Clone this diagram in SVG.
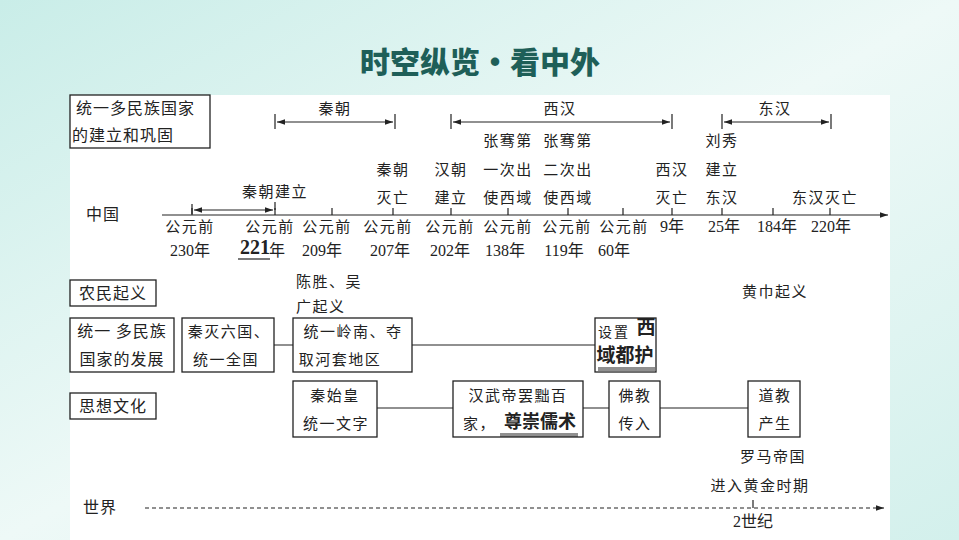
<svg xmlns="http://www.w3.org/2000/svg" width="959" height="540" viewBox="0 0 959 540">
<defs>
<linearGradient id="bg" x1="0" y1="0" x2="1" y2="1"><stop offset="0" stop-color="#c9ede8"/><stop offset="0.5" stop-color="#eef9f7"/><stop offset="1" stop-color="#d3f0ec"/></linearGradient>
<marker id="ar" viewBox="0 0 10 10" refX="10" refY="5" markerWidth="7" markerHeight="7" orient="auto-start-reverse"><path d="M0,1.5 L10,5 L0,8.5 Z" fill="#222"/></marker>
</defs>
<style>
text{font-family:"Noto Sans CJK SC","Noto Sans",sans-serif;font-size:15px;fill:#222;letter-spacing:1.5px}
.c{text-anchor:middle}
.n{font-family:"Liberation Serif","Noto Sans CJK SC",serif;font-size:16px;letter-spacing:0}
.b{fill:#fff;stroke:#222;stroke-width:1.3}
.l{stroke:#222;stroke-width:1.2;fill:none}
.bd{font-weight:bold;font-size:16px;letter-spacing:0}
.h{font-size:16px;letter-spacing:1px}
</style>
<rect width="959" height="540" fill="url(#bg)"/>
<rect x="70" y="95" width="820" height="445" fill="#fff"/>
<text x="480" y="73" class="c" style="font-size:30px;font-weight:900;fill:#1e5f58;letter-spacing:0">时空纵览·看中外</text>

<g id="connectors">
<line class="l" x1="162" y1="215" x2="888" y2="215" marker-end="url(#ar)"/>
<path class="l" d="M192,215v-7M275,215v-7M332,215v-7M393,215v-7M451,215v-7M508,215v-7M568,215v-7M623,215v-7M672,215v-7M722,215v-7M773,215v-7M830,215v-7"/>
<line class="l" x1="194" y1="210" x2="273" y2="210" marker-start="url(#ar)" marker-end="url(#ar)"/>
<path class="l" d="M192,204v10M275,202v8"/>
<line class="l" x1="277" y1="122" x2="393" y2="122" marker-start="url(#ar)" marker-end="url(#ar)"/>
<path class="l" d="M275,114v15M395,114v15"/>
<line class="l" x1="453" y1="122" x2="670" y2="122" marker-start="url(#ar)" marker-end="url(#ar)"/>
<path class="l" d="M451,114v15M672,114v15"/>
<line class="l" x1="724" y1="122" x2="829" y2="122" marker-start="url(#ar)" marker-end="url(#ar)"/>
<path class="l" d="M722,114v15M831,114v15"/>
<path class="l" d="M274,345H293M412,345H595M377,408H453M583,408H609M660,408H748"/>
<line class="l" x1="145" y1="508" x2="884" y2="508" stroke-dasharray="4,3" marker-end="url(#ar)"/>
<line class="l" x1="753" y1="500" x2="753" y2="508"/>
</g>

<g id="header"><rect class="b" x="70" y="95" width="140" height="53"/><text x="76" y="114" class="h">统一多民族国家</text><text x="72" y="141" class="h">的建立和巩固</text></g>
<g id="periods"><text x="335" y="114" class="c">秦朝</text><text x="560" y="114" class="c">西汉</text><text x="775" y="114" class="c">东汉</text></g>
<text x="103" y="220" class="c h">中国</text>
<g id="events">
<text x="275" y="197" class="c">秦朝建立</text>
<text x="393" y="175" class="c">秦朝</text><text x="393" y="203" class="c">灭亡</text>
<text x="451" y="175" class="c">汉朝</text><text x="451" y="203" class="c">建立</text>
<text x="508" y="146" class="c">张骞第</text><text x="508" y="175" class="c">一次出</text><text x="508" y="203" class="c">使西域</text>
<text x="568" y="146" class="c">张骞第</text><text x="568" y="175" class="c">二次出</text><text x="568" y="203" class="c">使西域</text>
<text x="672" y="175" class="c">西汉</text><text x="672" y="203" class="c">灭亡</text>
<text x="722" y="146" class="c">刘秀</text><text x="722" y="175" class="c">建立</text><text x="722" y="203" class="c">东汉</text>
<text x="825" y="203" class="c">东汉灭亡</text>
</g>
<g id="dates">
<text x="190" y="232" class="c">公元前</text><text x="190" y="256" class="n c">230年</text>
<text x="270" y="232" class="c">公元前</text><text x="255" y="254" class="n c" style="font-weight:bold;font-size:20px">221</text><text x="277" y="256" class="n c">年</text><line class="l" x1="238" y1="259" x2="270" y2="259"/>
<text x="327" y="232" class="c">公元前</text><text x="322" y="256" class="n c">209年</text>
<text x="388" y="232" class="c">公元前</text><text x="390" y="256" class="n c">207年</text>
<text x="450" y="232" class="c">公元前</text><text x="450" y="256" class="n c">202年</text>
<text x="508" y="232" class="c">公元前</text><text x="505" y="256" class="n c">138年</text>
<text x="567" y="232" class="c">公元前</text><text x="564" y="256" class="n c">119年</text>
<text x="624" y="232" class="c">公元前</text><text x="614" y="256" class="n c">60年</text>
<text x="672" y="232" class="n c">9年</text>
<text x="724" y="232" class="n c">25年</text>
<text x="777" y="232" class="n c">184年</text>
<text x="831" y="232" class="n c">220年</text>
</g>
<g id="nongmin"><rect class="b" x="70" y="280" width="86" height="26"/><text x="113" y="299" class="c h">农民起义</text></g>
<text x="296" y="287">陈胜、吴</text><text x="296" y="312">广起义</text>
<text x="775" y="297" class="c">黄巾起义</text>
<g id="fazhan"><rect class="b" x="70" y="318" width="104" height="54"/><text x="122" y="337" class="c h">统一 多民族</text><text x="122" y="365" class="c h">国家的发展</text></g>
<g id="n1"><rect class="b" x="182" y="318" width="92" height="54"/><text x="229" y="337" class="c">秦灭六国、</text><text x="226" y="365" class="c">统一全国</text></g>
<g id="n2"><rect class="b" x="293" y="318" width="119" height="54"/><text x="353" y="337" class="c">统一岭南、夺</text><text x="340" y="365" class="c">取河套地区</text></g>
<g id="n3"><rect class="b" x="595" y="318" width="61" height="54"/><text x="598" y="337" style="font-size:14px;letter-spacing:2px">设置</text><text x="646" y="334" class="c bd" style="font-size:19px">西</text><text x="625" y="362" class="c bd" style="font-size:19px">域都护</text><path class="l" d="M598,368H655M598,370H655" stroke-width="0.8"/></g>
<g id="sixiang"><rect class="b" x="70" y="393" width="86" height="26"/><text x="113" y="412" class="c h">思想文化</text></g>
<g id="n4"><rect class="b" x="293" y="381" width="84" height="56"/><text x="335" y="401" class="c">秦始皇</text><text x="336" y="429" class="c">统一文字</text></g>
<g id="n5"><rect class="b" x="453" y="381" width="130" height="56"/><text x="518" y="401" class="c">汉武帝罢黜百</text><text x="463" y="429">家，</text><text x="540" y="428" class="c bd" style="font-size:18px">尊崇儒术</text><path class="l" d="M500,434H578M500,436H578" stroke-width="0.8"/></g>
<g id="n6"><rect class="b" x="609" y="381" width="51" height="56"/><text x="635" y="401" class="c">佛教</text><text x="635" y="429" class="c">传入</text></g>
<g id="n7"><rect class="b" x="748" y="381" width="52" height="56"/><text x="775" y="401" class="c">道教</text><text x="775" y="429" class="c">产生</text></g>
<text x="773" y="462" class="c">罗马帝国</text><text x="760" y="491" class="c">进入黄金时期</text>
<text x="100" y="513" class="c h">世界</text>
<text x="753" y="527" class="n c">2世纪</text>
</svg>
